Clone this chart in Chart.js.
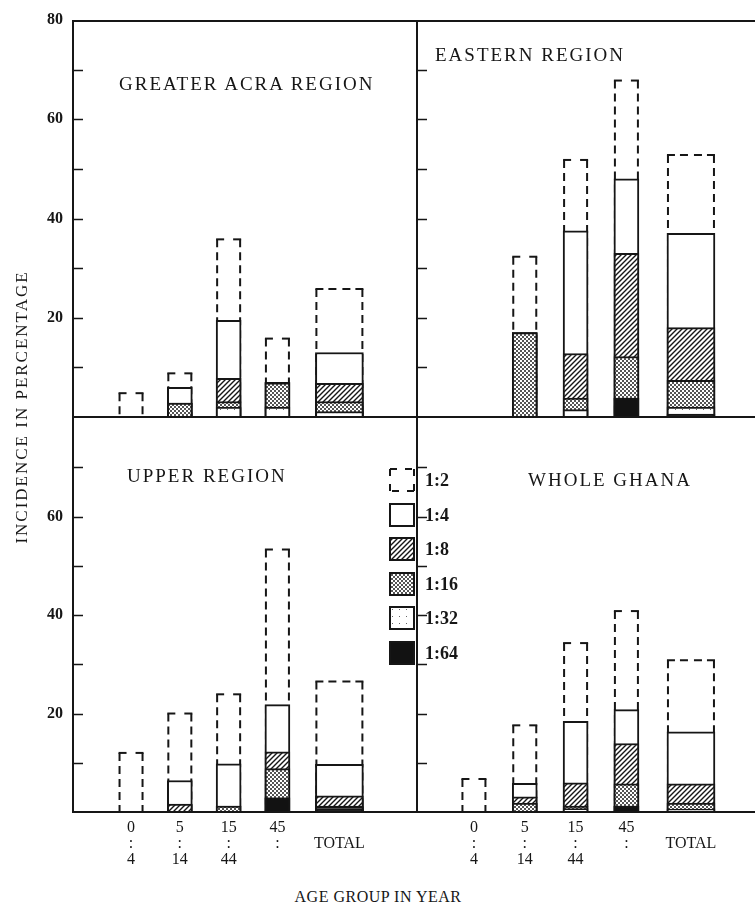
<!DOCTYPE html>
<html>
<head>
<meta charset="utf-8">
<title>Incidence by age group and region</title>
<script src="https://cdn.jsdelivr.net/npm/chart.js@4.4.1/dist/chart.umd.min.js"></script>
<style>
  body { margin: 0; background: #fff; }
  #figure { position: relative; width: 755px; height: 920px; overflow: hidden; background: #fff;
    font-family: "Liberation Serif", "DejaVu Serif", serif; color: #161616; }
  #figure canvas { position: absolute; }
  .region { position: absolute; font-size: 19px; letter-spacing: 2px; line-height: 20px; white-space: nowrap; }
  .axis-title { position: absolute; white-space: nowrap; text-align: center; line-height: 20px; }
  #legend { position: absolute; left: 389px; top: 468px; }
  .key { position: relative; height: 34.5px; width: 80px; }
  .key span { position: absolute; left: 36px; top: 1px; font-weight: bold; font-size: 18px; line-height: 22px; }
</style>
</head>
<body>
<div id="figure">
  <canvas id="accra" width="416" height="418" style="left:0;top:0"></canvas>
  <canvas id="eastern" width="349" height="418" style="left:406px;top:0"></canvas>
  <canvas id="upper" width="416" height="470" style="left:0;top:410px"></canvas>
  <canvas id="ghana" width="349" height="470" style="left:406px;top:410px"></canvas>

  <div class="region" style="left:119px;top:74px">GREATER ACRA REGION</div>
  <div class="region" style="left:435px;top:45px">EASTERN REGION</div>
  <div class="region" style="left:127px;top:466px">UPPER REGION</div>
  <div class="region" style="left:528px;top:470px">WHOLE GHANA</div>

  <div class="axis-title" style="left:-128px;top:397px;width:300px;font-size:17px;letter-spacing:2px;transform:rotate(-90deg)">INCIDENCE IN PERCENTAGE</div>
  <div class="axis-title" style="left:228px;top:887px;width:300px;font-size:16px;letter-spacing:0.5px">AGE GROUP IN YEAR</div>

  <div id="legend"></div>
</div>

<script>
// categories and labels
const ageGroups = ['0-4', '5-14', '15-44', '45-'];
const ageTickLabels = [['0', ':', '4'], ['5', ':', '14'], ['15', ':', '44'], ['45', ':']];
const totalTickLabel = ['', 'TOTAL'];
const titers = ['1:2', '1:4', '1:8', '1:16', '1:32', '1:64'];

// % of sera reacting at or above each titre: 0-4, 5-14, 15-44, 45-, TOTAL
const accraT2  = [5, 9, 36, 16, 26];
const accraT4  = [0, 6, 19.5, 7, 13];
const accraT8  = [0, 2.8, 7.8, 7, 6.8];
const accraT16 = [0, 2.8, 3.1, 6.9, 3.1];
const accraT32 = [0, 0, 2, 2, 1.1];
const accraT64 = [0, 0, 0, 0, 0];

const easternT2  = [0, 32.5, 52, 68, 53];
const easternT4  = [0, 17, 37.5, 48, 37];
const easternT8  = [0, 17, 12.8, 33, 18];
const easternT16 = [0, 17, 3.8, 12.2, 7.4];
const easternT32 = [0, 0, 1.5, 3.8, 2];
const easternT64 = [0, 0, 0, 3.8, 0.6];

const upperT2  = [12.2, 20.2, 24.1, 53.5, 26.7];
const upperT4  = [0, 6.4, 9.8, 21.8, 9.7];
const upperT8  = [0, 1.6, 1.2, 12.2, 3.3];
const upperT16 = [0, 0, 1.2, 8.8, 1.2];
const upperT32 = [0, 0, 0, 2.9, 1];
const upperT64 = [0, 0, 0, 2.9, 0.6];

const ghanaT2  = [6.9, 17.8, 34.5, 41, 31];
const ghanaT4  = [0, 5.8, 18.4, 20.8, 16.3];
const ghanaT8  = [0, 3.1, 5.9, 13.9, 5.7];
const ghanaT16 = [0, 1.8, 1.2, 5.7, 1.8];
const ghanaT32 = [0, 0, 0.7, 1.2, 0.6];
const ghanaT64 = [0, 0, 0, 1.2, 0];

// where the five groups sit on the x axis (TOTAL set a little apart)
const slotPos = [1, 2, 3, 4, 5.27];

const ink = '#161616';
Chart.defaults.font.family = '"Liberation Serif", "DejaVu Serif", serif';
Chart.defaults.color = ink;

function makePattern(kind) {
  const c = document.createElement('canvas');
  const p = c.getContext('2d');
  if (kind === 'hatch') {
    const s = 5;
    c.width = c.height = s;
    p.fillStyle = '#fff'; p.fillRect(0, 0, s, s);
    p.strokeStyle = ink; p.lineWidth = 1.4;
    p.beginPath();
    p.moveTo(0, s); p.lineTo(s, 0);
    p.moveTo(-1, 1); p.lineTo(1, -1);
    p.moveTo(s - 1, s + 1); p.lineTo(s + 1, s - 1);
    p.stroke();
  } else if (kind === 'dots') {
    c.width = c.height = 4;
    p.fillStyle = '#fff'; p.fillRect(0, 0, 4, 4);
    p.fillStyle = '#555'; p.fillRect(0, 0, 2, 2); p.fillRect(2, 2, 2, 2);
  } else {
    c.width = c.height = 7;
    p.fillStyle = '#fff'; p.fillRect(0, 0, 7, 7);
    p.fillStyle = '#666'; p.fillRect(3, 3, 1, 1);
  }
  return p.createPattern(c, 'repeat');
}

const titerStyles = [
  { fill: 'rgba(0,0,0,0)', border: 0, dashed: true },
  { fill: '#fff', border: 2 },
  { fill: makePattern('hatch'), border: 2 },
  { fill: makePattern('dots'), border: 2 },
  { fill: makePattern('specks'), border: 2 },
  { fill: '#121212', border: 2 }
];

// line that starts with a dash at (x1,y1)
function dashedLine(ctx, x1, y1, x2, y2) {
  ctx.beginPath();
  ctx.moveTo(x1, y1);
  ctx.lineTo(x2, y2);
  ctx.stroke();
}

const panelFrame = {
  id: 'panelFrame',
  afterDatasetDraw(chart, args) {
    const ds = chart.data.datasets[args.index];
    if (ds.titer !== 0) return;
    const ctx = chart.ctx;
    ctx.save();
    ctx.strokeStyle = ink;
    ctx.lineWidth = 2;
    ctx.setLineDash([8, 5]);
    args.meta.data.forEach((bar, i) => {
      if (!(ds.data[i].y > 0)) return;
      const { x, y, base, width } = bar.getProps(['x', 'y', 'base', 'width'], true);
      const l = x - width / 2 + 1, r = x + width / 2 - 1, t = y + 1;
      dashedLine(ctx, l, t, l, base);
      dashedLine(ctx, r, t, r, base);
      dashedLine(ctx, l - 1, t, x, t);
      dashedLine(ctx, r + 1, t, x, t);
    });
    ctx.restore();
  },
  afterDraw(chart, args, opts) {
    const ctx = chart.ctx;
    const a = chart.chartArea;
    const ys = chart.scales.y;
    ctx.save();
    ctx.strokeStyle = ink;
    ctx.lineWidth = 2;
    ctx.beginPath();
    if (opts.top) { ctx.moveTo(a.left, a.top + 1); ctx.lineTo(a.right, a.top + 1); }
    ctx.moveTo(a.left + 1, a.top); ctx.lineTo(a.left + 1, a.bottom);
    ctx.moveTo(a.left, a.bottom); ctx.lineTo(a.right, a.bottom);
    ctx.stroke();
    // short ticks pointing into the panel
    ctx.lineWidth = 1.5;
    ctx.beginPath();
    ys.ticks.forEach(tk => {
      if (tk.value <= ys.min || tk.value >= ys.max) return;
      const py = Math.round(ys.getPixelForValue(tk.value)) + 0.5;
      ctx.moveTo(a.left, py);
      ctx.lineTo(a.left + 11, py);
    });
    ctx.stroke();
    ctx.restore();
  }
};
Chart.register(panelFrame);

function makePanel(id, series, opt) {
  const datasets = [];
  titers.forEach((t, k) => {
    const st = titerStyles[k];
    const common = {
      label: t, titer: k, order: titers.length - k, grouped: false,
      barPercentage: 1, categoryPercentage: 1,
      backgroundColor: st.fill, borderColor: ink, borderWidth: st.border, borderSkipped: 'start'
    };
    datasets.push(Object.assign({}, common, {
      data: ageGroups.map((g, i) => ({ x: slotPos[i], y: series[k][i] })),
      maxBarThickness: 25
    }));
    datasets.push(Object.assign({}, common, {
      data: [{ x: slotPos[4], y: series[k][4] }],
      maxBarThickness: 48
    }));
  });

  return new Chart(document.getElementById(id), {
    type: 'bar',
    data: { datasets: datasets },
    options: {
      responsive: false,
      animation: false,
      layout: { padding: { top: opt.padTop, left: 0, right: 0, bottom: 0 } },
      plugins: {
        legend: { display: false },
        tooltip: { enabled: false },
        panelFrame: { top: opt.top }
      },
      scales: {
        x: {
          type: 'linear',
          offset: false,
          min: opt.xMin,
          max: opt.xMax,
          afterBuildTicks: s => { s.ticks = slotPos.map(v => ({ value: v })); },
          ticks: {
            display: opt.xLabels,
            autoSkip: false,
            maxRotation: 0,
            padding: 8,
            font: { size: 16, lineHeight: 1 },
            callback: v => {
              const i = slotPos.indexOf(v);
              return i < 4 ? ageTickLabels[i] : totalTickLabel;
            }
          },
          grid: { display: false, drawTicks: false },
          border: { display: false },
          afterFit: s => {
            s.height = opt.xLabels ? 68 : 1;
            s.paddingLeft = 0; s.paddingRight = 0;
          }
        },
        y: {
          min: 0,
          max: 80,
          ticks: {
            stepSize: 10,
            display: opt.yLabels,
            padding: 9,
            font: { size: 16, weight: 'bold' },
            callback: v => (v % 20 === 0 && v > 0 && (v < 80 || opt.top)) ? String(v) : ''
          },
          grid: { display: false, drawTicks: false },
          border: { display: false },
          afterFit: s => {
            s.width = opt.yWidth;
            s.paddingTop = 0; s.paddingBottom = 0;
          }
        }
      }
    }
  });
}

const leftCol = { xMin: -0.21, xMax: 6.84, yLabels: true, yWidth: 72 };
const rightCol = { xMin: -0.14, xMax: 6.53, yLabels: false, yWidth: 10 };

makePanel('accra', [accraT2, accraT4, accraT8, accraT16, accraT32, accraT64],
  Object.assign({}, leftCol, { top: true, padTop: 20, xLabels: false }));
makePanel('eastern', [easternT2, easternT4, easternT8, easternT16, easternT32, easternT64],
  Object.assign({}, rightCol, { top: true, padTop: 20, xLabels: false }));
makePanel('upper', [upperT2, upperT4, upperT8, upperT16, upperT32, upperT64],
  Object.assign({}, leftCol, { top: false, padTop: 8, xLabels: true }));
makePanel('ghana', [ghanaT2, ghanaT4, ghanaT8, ghanaT16, ghanaT32, ghanaT64],
  Object.assign({}, rightCol, { top: false, padTop: 8, xLabels: true }));

// key for the titres
const legendBox = document.getElementById('legend');
titers.forEach((t, k) => {
  const row = document.createElement('div');
  row.className = 'key';
  const c = document.createElement('canvas');
  c.width = 26; c.height = 24;
  c.style.left = '0px'; c.style.top = '0px';
  const p = c.getContext('2d');
  const st = titerStyles[k];
  p.fillStyle = st.dashed ? '#fff' : st.fill;
  p.fillRect(1, 1, 24, 22);
  p.strokeStyle = ink;
  p.lineWidth = 2;
  if (st.dashed) {
    p.setLineDash([7, 8]);
    dashedLine(p, 1, 1, 25, 1);
    dashedLine(p, 25, 23, 1, 23);
    dashedLine(p, 1, 23, 1, 1);
    dashedLine(p, 25, 1, 25, 23);
  } else {
    p.strokeRect(1, 1, 24, 22);
  }
  const label = document.createElement('span');
  label.textContent = t;
  row.appendChild(c);
  row.appendChild(label);
  legendBox.appendChild(row);
});
</script>
</body>
</html>
